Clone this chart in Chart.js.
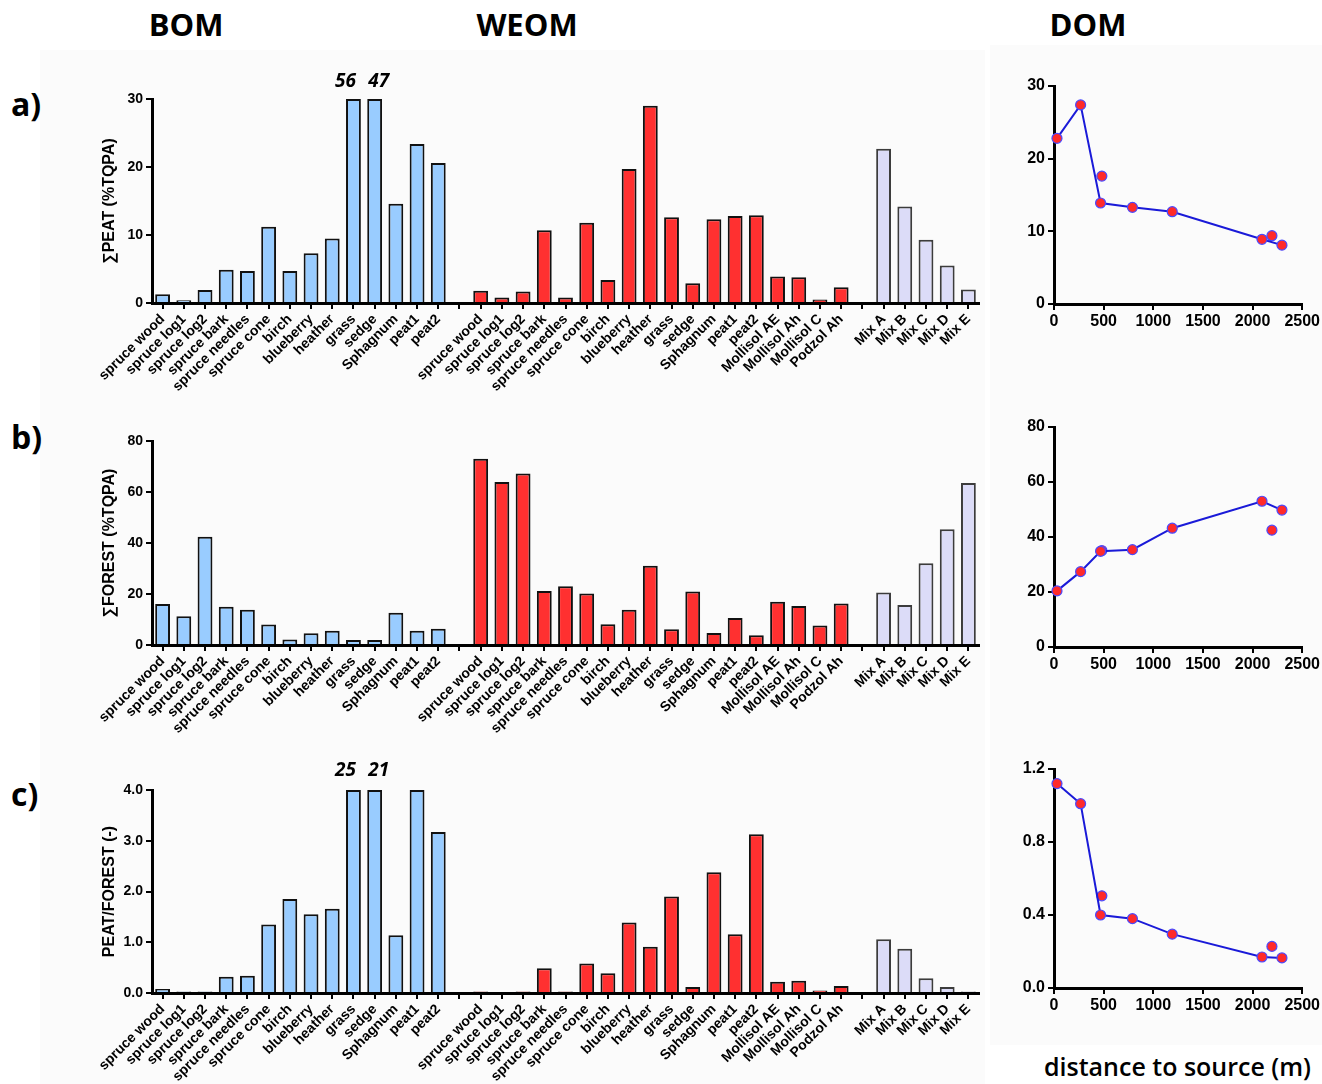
<!DOCTYPE html>
<html><head><meta charset="utf-8">
<script src="https://cdn.jsdelivr.net/npm/chart.js@4.4.1/dist/chart.umd.min.js"></script>
<style>
html,body{margin:0;padding:0;background:#fff;width:1322px;height:1084px;overflow:hidden;}
body{position:relative;font-family:"Liberation Sans",Arial,sans-serif;}
.bg{position:absolute;background:#fbfbfb;}
.txt{position:absolute;font-family:"Open Sans",sans-serif;font-weight:700;color:#000;line-height:1;white-space:nowrap;}
canvas{position:absolute;}
</style></head><body>
<div class="bg" style="left:40px;top:50px;width:945px;height:1034px"></div>
<div class="bg" style="left:990px;top:45px;width:332px;height:1000px"></div>

<div class="txt" id="hBOM" style="font-size:31px">BOM</div>
<div class="txt" id="hWEOM" style="font-size:31px">WEOM</div>
<div class="txt" id="hDOM" style="font-size:31px">DOM</div>
<div class="txt" id="rA" style="font-size:32px">a)</div>
<div class="txt" id="rB" style="font-size:32px">b)</div>
<div class="txt" id="rC" style="font-size:32px">c)</div>
<div class="txt" id="xDist" style="font-size:25px;font-weight:600">distance to source (m)</div>

<script>
// ---------------- data ----------------
const bomLabels = ['spruce wood','spruce log1','spruce log2','spruce bark','spruce needles','spruce cone','birch','blueberry','heather','grass','sedge','Sphagnum','peat1','peat2'];
const weomLabels = ['spruce wood','spruce log1','spruce log2','spruce bark','spruce needles','spruce cone','birch','blueberry','heather','grass','sedge','Sphagnum','peat1','peat2','Mollisol AE','Mollisol Ah','Mollisol C','Podzol Ah'];
const mixLabels = ['Mix A','Mix B','Mix C','Mix D','Mix E'];

// a) ΣPEAT (%TQPA)
const bomPeat  = [1.3,0.4,1.9,4.9,4.7,11.2,4.7,7.3,9.5,56,47,14.6,23.4,20.6];
const weomPeat = [1.8,0.8,1.7,10.7,0.8,11.8,3.4,19.7,29.0,12.6,2.9,12.3,12.8,12.9,3.9,3.8,0.5,2.3];
const mixPeat  = [22.7,14.2,9.3,5.5,2.0];
// b) ΣFOREST (%TQPA)
const bomForest  = [16.1,11.3,42.5,15.0,13.8,8.0,2.2,4.6,5.6,2.0,2.0,12.6,5.6,6.4];
const weomForest = [73.0,63.9,67.3,21.2,23.0,20.2,8.1,13.8,31.1,6.2,21.0,4.7,10.6,3.8,17.0,15.3,7.6,16.3];
const mixForest  = [20.6,15.7,32.1,45.4,63.5];
// c) PEAT/FOREST (-)
const bomRatio  = [0.08,0.03,0.03,0.32,0.34,1.35,1.85,1.55,1.66,25,21,1.14,4.0,3.17];
const weomRatio = [0.03,0.0,0.03,0.49,0.03,0.58,0.39,1.39,0.91,1.90,0.12,2.38,1.16,3.13,0.22,0.24,0.05,0.14];
const mixRatio  = [1.06,0.87,0.29,0.12,0.03];

// DOM vs distance to source (m)
const distLine  = [30,268,469,790,1191,2095,2296];
const distExtra = [482,2195];
const domPeatLine    = [22.8,27.4,13.9,13.3,12.7,8.9,8.1];
const domPeatExtra   = [17.6,9.4];
const domForestLine  = [20.4,27.4,34.8,35.4,43.2,53.0,49.8];
const domForestExtra = [35.1,42.5];
const domRatioLine   = [1.12,1.01,0.40,0.38,0.295,0.17,0.165];
const domRatioExtra  = [0.505,0.228];

const BLUE = '#99ccff', RED = '#ff3030', LAV = '#dcdcf8';

// ---------------- text placement ----------------
function place(id, x, baseline, align){
  const el = document.getElementById(id);
  const fs = parseFloat(el.style.fontSize);
  const off = (fs - 1.362*fs)/2 + 1.069*fs;
  el.style.top = (baseline - off) + 'px';
  el.style.left = x + 'px';
  if (align === 'center') el.style.transform = 'translateX(-50%)';
}
place('hBOM', 186, 37, 'center');
place('hWEOM', 527, 37, 'center');
place('hDOM', 1088, 37, 'center');
place('rA', 11, 116);
place('rB', 11, 449);
place('rC', 11, 806);
place('xDist', 1044, 1076);

// ---------------- helpers ----------------
const FAM = '"Liberation Sans", Arial, sans-serif';
const tickFont = {family:FAM, size:14, weight:'bold'};
function axisGrid(){ return {display:true, drawOnChartArea:false, drawTicks:true, tickLength:6, color:'#000', lineWidth:2, tickWidth:2}; }

const overLabels = {
  id:'overLabels',
  afterDatasetsDraw(chart){
    const ds = chart.data.datasets[0];
    if (!ds.rawValues) return;
    const meta = chart.getDatasetMeta(0);
    const max = chart.scales.y.max;
    const raw = ds.rawValues;
    const over = i => raw[i] != null && raw[i] > max;
    const ctx = chart.ctx;
    ctx.save();
    ctx.font = 'italic 700 19px "Open Sans", sans-serif';
    ctx.fillStyle = '#000';
    ctx.textAlign = 'center';
    ctx.textBaseline = 'alphabetic';
    raw.forEach((v,i)=>{
      if (over(i)) {
        const el = meta.data[i];
        let dx = 0;
        if (over(i+1)) dx -= 8;
        if (over(i-1)) dx += 4;
        ctx.fillText(String(v), el.x + dx, chart.chartArea.top - ds.labelGap);
      }
    });
    ctx.restore();
  }
};

function makeCanvas(left, top, w, h){
  const c = document.createElement('canvas');
  c.width = w; c.height = h;
  c.style.left = left + 'px'; c.style.top = top + 'px';
  c.style.width = w + 'px'; c.style.height = h + 'px';
  document.body.appendChild(c);
  return c;
}

function barChart(geo, bom, weom, mix, yMax, step, dec, title, labelGap){
  const labels = [...bomLabels, '', ...weomLabels, '', ...mixLabels];
  const raw = [...bom, null, ...weom, null, ...mix];
  const shown = raw.map(v => v == null ? null : Math.min(v, yMax));
  const fill = [...bom.map(()=>BLUE), 'rgba(0,0,0,0)', ...weom.map(()=>RED), 'rgba(0,0,0,0)', ...mix.map(()=>LAV)];
  const border = [...bom.map(()=>'#111'), 'rgba(0,0,0,0)', ...weom.map(()=>'#111'), 'rgba(0,0,0,0)', ...mix.map(()=>'#3c3c3c')];
  const c = makeCanvas(geo.left, geo.top, geo.w, geo.h);
  new Chart(c, {
    type:'bar',
    data:{labels, datasets:[{data:shown, rawValues:raw, labelGap, backgroundColor:fill, borderColor:border, borderWidth:2, barPercentage:0.7, categoryPercentage:1.0}]},
    options:{
      responsive:false, animation:false, devicePixelRatio:1,
      layout:{padding:{top:geo.padTop, right:geo.padRight, left:0, bottom:0}},
      plugins:{legend:{display:false}, tooltip:{enabled:false}},
      scales:{
        x:{type:'category', offset:true, grid:Object.assign(axisGrid(), {offset:false}),
           border:{display:true, color:'#000', width:3},
           ticks:{autoSkip:false, maxRotation:45, minRotation:45, padding:2, color:'#000', font:tickFont},
           afterFit(s){ s.height = geo.xH; }},
        y:{min:0, max:yMax, grid:axisGrid(), border:{display:true, color:'#000', width:3},
           ticks:{stepSize:step, color:'#000', font:tickFont, padding:3, callback:v=>Number(v).toFixed(dec)},
           title:{display:true, text:title, color:'#000', font:{family:FAM, size:16, weight:'bold'}, padding:{top:3,bottom:4}},
           afterFit(s){ s.width = geo.yW; }}
      }
    },
    plugins:[overLabels]
  });
}

function lineChart(geo, line, extra, yMax, step, dec){
  const pt = {pointBackgroundColor:'#ff2a2a', pointBorderColor:'#4a4aff', pointBorderWidth:1.2, pointRadius:5};
  const c = makeCanvas(geo.left, geo.top, geo.w, geo.h);
  const lf = {family:FAM, size:16, weight:'bold'};
  new Chart(c, {
    type:'scatter',
    data:{datasets:[
      Object.assign({data:distLine.map((x,i)=>({x, y:line[i]})), showLine:true, borderColor:'#1a1ad8', borderWidth:2, clip:false}, pt),
      Object.assign({data:distExtra.map((x,i)=>({x, y:extra[i]})), showLine:false, clip:false}, pt)
    ]},
    options:{
      responsive:false, animation:false, devicePixelRatio:1,
      layout:{padding:{top:geo.padTop, right:geo.padRight, left:0, bottom:0}},
      plugins:{legend:{display:false}, tooltip:{enabled:false}},
      scales:{
        x:{type:'linear', min:0, max:2500, grid:axisGrid(), border:{display:true, color:'#000', width:3},
           ticks:{stepSize:500, color:'#000', font:lf, padding:2, maxRotation:0, callback:v=>String(v)},
           afterFit(s){ s.height = geo.xH; }},
        y:{type:'linear', min:0, max:yMax, grid:axisGrid(), border:{display:true, color:'#000', width:3},
           ticks:{stepSize:step, color:'#000', font:lf, padding:3, callback:v=>Number(v).toFixed(dec)},
           afterFit(s){ s.width = geo.yW; }}
      }
    }
  });
}

// ---------------- charts ----------------
barChart({left:97, top:60,  w:890, h:340, padTop:39, padRight:8, xH:97, yW:55}, bomPeat, weomPeat, mixPeat, 30, 10, 0, '\u2211PEAT (%TQPA)', 12);
barChart({left:97, top:402, w:890, h:340, padTop:39, padRight:8, xH:97, yW:55}, bomForest, weomForest, mixForest, 80, 20, 0, '\u2211FOREST (%TQPA)', 12);
barChart({left:97, top:751, w:890, h:333, padTop:39, padRight:8, xH:91, yW:55}, bomRatio, weomRatio, mixRatio, 4, 1, 1, 'PEAT/FOREST (-)', 14);

lineChart({left:1010, top:60,  w:312, h:274, padTop:26, padRight:19, xH:30, yW:44}, domPeatLine, domPeatExtra, 30, 10, 0);
lineChart({left:1010, top:402, w:312, h:275, padTop:25, padRight:19, xH:30, yW:44}, domForestLine, domForestExtra, 80, 20, 0);
lineChart({left:1010, top:751, w:312, h:267, padTop:18, padRight:19, xH:30, yW:44}, domRatioLine, domRatioExtra, 1.2, 0.4, 1);
</script>
</body></html>
